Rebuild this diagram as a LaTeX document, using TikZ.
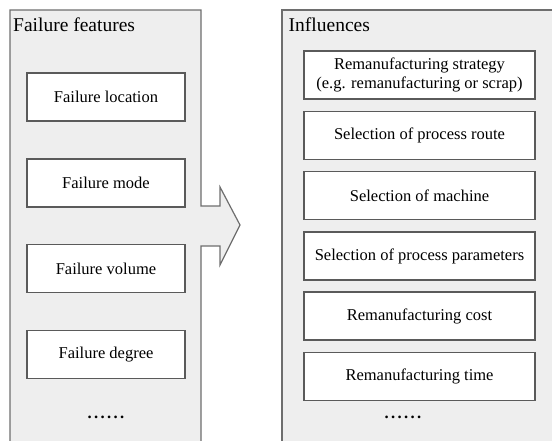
\documentclass[tikz,border=0pt]{standalone}
\usepackage{fontspec}
\setmainfont{Liberation Serif}
\definecolor{panelfill}{HTML}{EEEEEE}
\definecolor{panelline}{HTML}{6E6E6E}
\definecolor{boxline}{HTML}{5A5A5A}
\newcommand{\mydots}{.\hspace{2.4pt}.\hspace{2.4pt}.\hspace{2.4pt}.\hspace{2.4pt}.\hspace{2.4pt}.}
\tikzset{
  panel/.style={draw=panelline, fill=panelfill, line width=1.2pt, line join=miter},
  itembox/.style={draw=boxline, fill=white, line width=1.2pt, minimum height=48pt,
    inner sep=0pt, align=center, font=\fontsize{16.5}{19}\selectfont},
  lbox/.style={itembox, minimum width=158pt},
  rbox/.style={itembox, minimum width=231pt},
  title/.style={anchor=base west, inner sep=0pt, font=\fontsize{19.5}{22}\selectfont},
  dots/.style={inner sep=0pt, anchor=base, font=\fontsize{16.5}{19}\selectfont\bfseries}
}
\begin{document}
\begin{tikzpicture}[x=1pt, y=-1pt]
\useasboundingbox (0,0) rectangle (552,440);
\clip (0,0) rectangle (552,440);
% left panel with arrow
\path[panel] (10,10) -- (201,10) -- (201,206) -- (220,206) -- (220,187) -- (240,225)
  -- (220,265) -- (220,246) -- (201,246) -- (201,450) -- (10,450) -- cycle;
% right panel
\path[panel] (282,10) rectangle (565,450);
\node[title] (t1) at (13,31) {Failure features};
\node[title] (t2) at (288.5,31) {Influences};
% left boxes
\node[lbox] (l1) at (106,97) {Failure location};
\node[lbox] (l2) at (106,183) {Failure mode};
\node[lbox] (l3) at (106,268.5) {Failure volume};
\node[lbox] (l4) at (106,354.5) {Failure degree};
\node[dots] (ld) at (106,418.5) {\mydots};
% right boxes
\node[rbox] (r1) at (419.5,75) {Remanufacturing strategy\\(e.g. remanufacturing or scrap)};
\node[rbox] (r2) at (419.5,135.5) {Selection of process route};
\node[rbox] (r3) at (419.5,195.5) {Selection of machine};
\node[rbox] (r4) at (419.5,256) {Selection of process parameters};
\node[rbox] (r5) at (419.5,316) {Remanufacturing cost};
\node[rbox] (r6) at (419.5,376.5) {Remanufacturing time};
\node[dots] (rd) at (403,418.5) {\mydots};
\end{tikzpicture}
\end{document}
